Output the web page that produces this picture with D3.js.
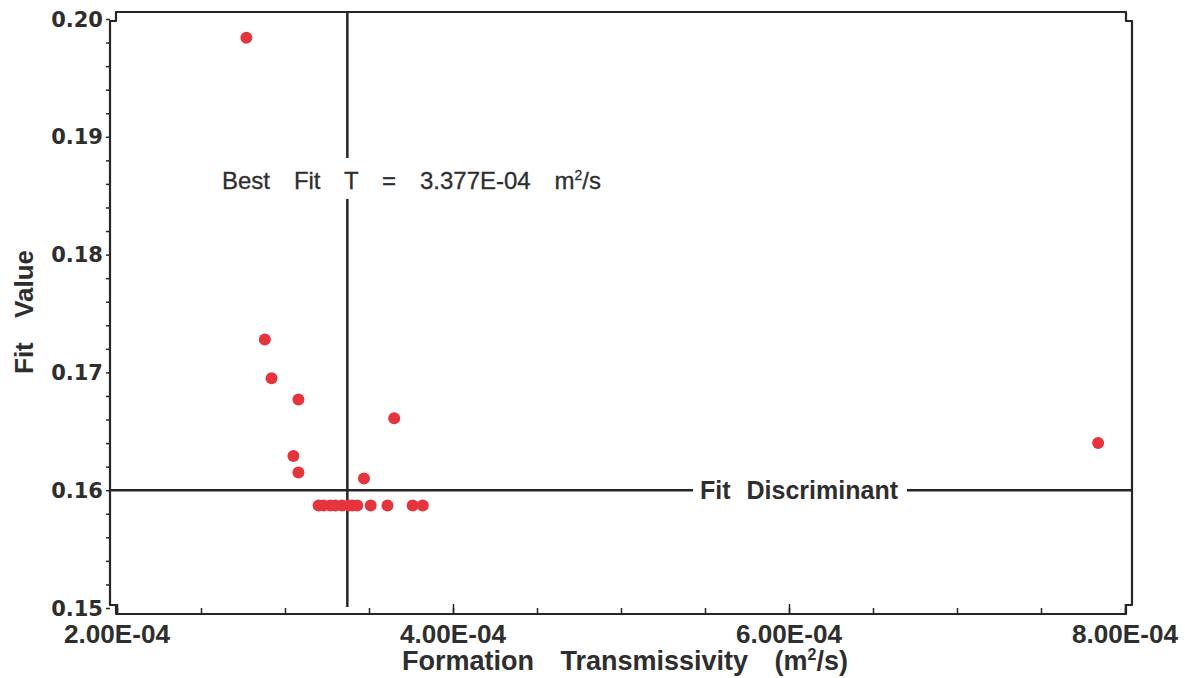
<!DOCTYPE html>
<html><head><meta charset="utf-8">
<script src="https://cdn.jsdelivr.net/npm/d3@7"></script>
<style>body{margin:0;background:#fff}svg{display:block}</style>
</head><body>
<script>
// Data (transmissivity in m2/s, fit value)
const transmissivity = [2.77e-4, 2.88e-4, 2.92e-4, 3.08e-4, 3.05e-4, 3.08e-4, 3.47e-4, 3.65e-4, 7.84e-4,
  3.20e-4, 3.23e-4, 3.27e-4, 3.30e-4, 3.34e-4, 3.38e-4, 3.40e-4, 3.43e-4, 3.51e-4, 3.61e-4, 3.76e-4, 3.82e-4];
const fitValues = [0.1984, 0.1728, 0.1695, 0.1677, 0.1629, 0.1615, 0.1610, 0.1661, 0.1640,
  0.1587, 0.1587, 0.1587, 0.1587, 0.1587, 0.1587, 0.1587, 0.1587, 0.1587, 0.1587, 0.1587, 0.1587];
const xTicks = [2e-4, 4e-4, 6e-4, 8e-4];
const xTickLabels = ["2.00E-04", "4.00E-04", "6.00E-04", "8.00E-04"];
const yTicks = [0.15, 0.16, 0.17, 0.18, 0.19, 0.20];
const yTickLabels = ["0.15", "0.16", "0.17", "0.18", "0.19", "0.20"];
const bestFitT = 3.377e-4;
const fitDiscriminant = 0.16;

const W = 1185, H = 678;
const F = {L: 110, R: 1132, T: 12, B: 614};   // frame
const x = d3.scaleLinear().domain([2e-4, 8e-4]).range([117, 1125]);
const y = d3.scaleLinear().domain([0.15, 0.20]).range([608, 19]);
const ink = "#262626", txt = "#2e2e2e";
const LS = "'Liberation Sans', Arial, sans-serif";

const svg = d3.select("body").append("svg").attr("width", W).attr("height", H)
  .style("font-family", LS);

// fit a text's word spacing so that it spans a given width
function spreadWords(sel, width, gaps) {
  const n = sel.node();
  const w = n.getComputedTextLength();
  sel.style("word-spacing", Math.max(0, (width - w) / gaps) + "px");
}

// Frame with notched corners
const s = 6, v = 9;
svg.append("path")
  .attr("d", `M${F.L},${F.T+v} H${F.L+s} V${F.T} H${F.R-s} V${F.T+v} H${F.R} V${F.B-v} H${F.R-s} V${F.B} H${F.L+s} V${F.B-v} H${F.L} Z`)
  .attr("fill", "none").attr("stroke", ink).attr("stroke-width", 2.2).attr("stroke-linejoin", "round");

// Y axis ticks (outward)
const yMinor = d3.range(0.15, 0.2001, 0.002);
const yAx = svg.append("g").attr("transform", `translate(${F.L},0)`);
yAx.call(d3.axisLeft(y).tickValues(yMinor).tickSize(4).tickFormat(""))
  .call(g => g.select(".domain").remove());
yAx.selectAll("line").attr("stroke", ink).attr("stroke-width", 1.5);
svg.append("g").selectAll("text").data(yTicks).join("text")
  .attr("x", 103).attr("y", d => y(d)).attr("dy", "0.36em")
  .attr("text-anchor", "end").attr("font-family", "'DejaVu Sans', sans-serif")
  .attr("font-weight", "bold").attr("font-size", 21).attr("fill", txt)
  .text((d, i) => yTickLabels[i]);

// X axis ticks (inward)
const xMinor = d3.range(2e-4, 8.001e-4, 0.5e-4);
const xAx = svg.append("g").attr("transform", `translate(0,${F.B})`);
xAx.call(d3.axisBottom(x).tickValues(xMinor).tickSize(-6).tickFormat(""))
  .call(g => g.select(".domain").remove());
xAx.append("g").call(d3.axisBottom(x).tickValues(xTicks).tickSize(-10).tickFormat(""))
  .call(g => g.select(".domain").remove());
xAx.selectAll("line").attr("stroke", ink).attr("stroke-width", 1.5);
svg.append("g").selectAll("text").data(xTicks).join("text")
  .attr("x", d => x(d)).attr("y", 643).attr("text-anchor", "middle")
  .attr("font-weight", "bold").attr("font-size", 25).attr("fill", txt)
  .attr("textLength", 106).attr("lengthAdjust", "spacingAndGlyphs")
  .text((d, i) => xTickLabels[i]);

// Axis titles
const xt = svg.append("text").attr("x", 402).attr("y", 670)
  .attr("font-size", 27).attr("font-weight", "bold").attr("fill", txt)
  .html('Formation Transmissivity (m<tspan font-size="16" dy="-10">2</tspan><tspan dy="10">/s)</tspan>');
spreadWords(xt, 446, 2);
const yt = svg.append("text").attr("transform", "translate(33,312) rotate(-90)").attr("text-anchor", "middle")
  .attr("font-size", 26).attr("font-weight", "bold").attr("fill", txt)
  .text("Fit Value");
spreadWords(yt, 124, 1);

// Best-fit vertical line (gap around label)
const bx = x(bestFitT) - 1;
svg.append("line").attr("x1", bx).attr("x2", bx).attr("y1", F.T).attr("y2", 158)
  .attr("stroke", ink).attr("stroke-width", 2.5);
svg.append("line").attr("x1", bx).attr("x2", bx).attr("y1", 199).attr("y2", F.B - 7)
  .attr("stroke", ink).attr("stroke-width", 2.5);
const bt = svg.append("text").attr("x", 222).attr("y", 189).attr("font-size", 24).attr("fill", txt)
  .attr("stroke", txt).attr("stroke-width", 0.3)
  .html('Best Fit T = 3.377E-04 m<tspan font-size="14" dy="-9">2</tspan><tspan dy="9">/s</tspan>');
spreadWords(bt, 379, 5);

// Fit discriminant horizontal line
const fy = y(fitDiscriminant);
svg.append("line").attr("x1", F.L).attr("x2", 693).attr("y1", fy).attr("y2", fy)
  .attr("stroke", ink).attr("stroke-width", 2.5);
svg.append("line").attr("x1", 907).attr("x2", F.R).attr("y1", fy).attr("y2", fy)
  .attr("stroke", ink).attr("stroke-width", 2.5);
const fd = svg.append("text").attr("x", 700).attr("y", fy + 9)
  .attr("font-size", 25).attr("font-weight", "bold").attr("fill", txt)
  .text("Fit Discriminant");
spreadWords(fd, 198, 1);

// Points
svg.append("g").selectAll("circle")
  .data(transmissivity.map((t, i) => [t, fitValues[i]]))
  .join("circle")
  .attr("cx", d => x(d[0])).attr("cy", d => y(d[1])).attr("r", 6)
  .attr("fill", "#e5343d");
</script>
</body></html>
